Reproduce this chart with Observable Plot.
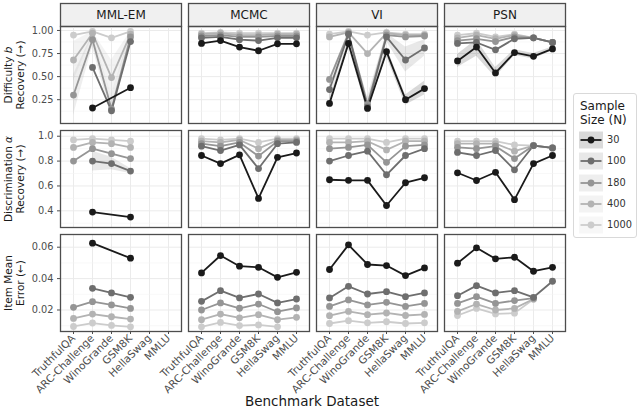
<!DOCTYPE html>
<html><head><meta charset="utf-8">
<script src="https://cdn.jsdelivr.net/npm/d3@7"></script>
<script src="https://cdn.jsdelivr.net/npm/@observablehq/plot@0.6"></script>
<style>
html,body{margin:0;padding:0;background:#fff;}
#chart{position:relative;width:639px;height:409px;overflow:hidden;font-family:"DejaVu Sans",sans-serif;background:#fff;}
.rowtitle{position:absolute;transform:translate(-50%,-50%) rotate(-90deg);text-align:center;white-space:nowrap;font-size:10.5px;line-height:12px;color:#1a1a1a;}
</style></head><body>
<div id="chart"></div>
<script>
// ---------------- data ----------------
const methods = ["MML-EM", "MCMC", "VI", "PSN"];
const benchmarks = ["TruthfulQA", "ARC-Challenge", "WinoGrande", "GSM8K", "HellaSwag", "MMLU"];
const sampleSizes = [30, 100, 180, 400, 1000];
const sizeColors = ["#1a1a1a", "#6e6e6e", "#959595", "#b3b3b3", "#cccccc"];
const rowTitles = [
  ["Difficulty <i>b</i>", "Recovery (→)"],
  ["Discrimination <i>α</i>", "Recovery (→)"],
  ["Item Mean", "Error (←)"]
];
const xAxisTitle = "Benchmark Dataset";
const legendTitle = ["Sample", "Size (N)"];

// rows: sample size 30,100,180,400,1000 ; columns: benchmarks
const diffMMLEM = [
  [null, 0.16, null, 0.38, null, null],
  [null, 0.60, 0.13, 0.88, null, null],
  [0.30, 0.90, 0.15, 0.93, null, null],
  [0.68, 0.97, 0.49, 0.96, null, null],
  [0.95, 0.99, 0.92, 0.99, null, null]
];
const diffMCMC = [
  [0.86, 0.89, 0.82, 0.78, 0.855, 0.855],
  [0.92, 0.93, 0.90, 0.89, 0.92, 0.92],
  [0.94, 0.95, 0.93, 0.93, 0.94, 0.94],
  [0.96, 0.97, 0.95, 0.95, 0.96, 0.96],
  [0.97, 0.98, 0.97, 0.97, 0.97, 0.97]
];
const diffVI = [
  [0.21, 0.86, 0.155, 0.77, 0.25, 0.37],
  [0.36, 0.96, 0.17, 0.93, 0.68, 0.81],
  [0.47, 0.97, 0.20, 0.95, 0.93, 0.94],
  [0.93, 0.98, 0.75, 0.97, 0.95, 0.95],
  [0.96, 0.99, 0.95, 0.98, 0.96, 0.96]
];
const diffPSN = [
  [0.67, 0.82, 0.54, 0.76, 0.72, 0.80],
  [0.86, 0.87, 0.79, 0.91, 0.92, 0.87],
  [0.89, 0.91, 0.88, 0.93, 0.92, 0.87],
  [0.92, 0.95, 0.91, 0.95, 0.92, 0.87],
  [0.95, 0.97, 0.93, 0.96, 0.92, 0.87]
];
const discMMLEM = [
  [null, 0.39, null, 0.35, null, null],
  [null, 0.80, 0.78, 0.72, null, null],
  [0.80, 0.90, 0.86, 0.82, null, null],
  [0.91, 0.95, 0.94, 0.91, null, null],
  [0.97, 0.98, 0.97, 0.96, null, null]
];
const discMCMC = [
  [0.845, 0.78, 0.85, 0.50, 0.83, 0.865],
  [0.92, 0.885, 0.93, 0.74, 0.94, 0.95],
  [0.94, 0.92, 0.95, 0.84, 0.96, 0.96],
  [0.96, 0.95, 0.97, 0.90, 0.97, 0.97],
  [0.98, 0.97, 0.98, 0.95, 0.98, 0.98]
];
const discVI = [
  [0.65, 0.645, 0.645, 0.443, 0.626, 0.666],
  [0.80, 0.845, 0.88, 0.69, 0.845, 0.90],
  [0.90, 0.91, 0.93, 0.79, 0.92, 0.93],
  [0.95, 0.95, 0.96, 0.89, 0.96, 0.96],
  [0.98, 0.98, 0.98, 0.95, 0.98, 0.98]
];
const discPSN = [
  [0.706, 0.644, 0.71, 0.49, 0.78, 0.845],
  [0.87, 0.845, 0.885, 0.73, 0.925, 0.906],
  [0.91, 0.90, 0.92, 0.82, 0.925, 0.906],
  [0.94, 0.94, 0.94, 0.88, 0.925, 0.906],
  [0.96, 0.96, 0.96, 0.93, 0.925, 0.906]
];
const errMMLEM = [
  [null, 0.0626, null, 0.053, null, null],
  [null, 0.0338, 0.0309, 0.0281, null, null],
  [0.0217, 0.0253, 0.0232, 0.021, null, null],
  [0.0146, 0.0174, 0.0157, 0.0142, null, null],
  [0.0095, 0.0117, 0.0102, 0.0093, null, null]
];
const errMCMC = [
  [0.0436, 0.0547, 0.0479, 0.0472, 0.0408, 0.044],
  [0.0255, 0.0323, 0.0277, 0.0302, 0.0245, 0.027],
  [0.020, 0.0245, 0.0211, 0.0238, 0.0189, 0.0213],
  [0.0138, 0.0174, 0.015, 0.017, 0.0138, 0.0153],
  [0.0093, 0.0121, 0.0101, 0.0105, 0.0093, null]
];
const errVI = [
  [0.0458, 0.0615, 0.049, 0.0483, 0.0419, 0.0468],
  [0.0277, 0.0351, 0.0302, 0.0317, 0.0285, 0.0309],
  [0.0223, 0.0264, 0.0232, 0.0249, 0.0223, 0.0242],
  [0.0164, 0.0191, 0.017, 0.0181, 0.0165, 0.0172],
  [0.0114, 0.0132, 0.0118, 0.0125, 0.0114, 0.0118]
];
const errPSN = [
  [0.0498, 0.0596, 0.0526, 0.0536, 0.0447, 0.0472],
  [0.0291, 0.0355, 0.0309, 0.0323, 0.0281, 0.0383],
  [0.0242, 0.0285, 0.0242, 0.026, 0.0275, null],
  [0.0191, 0.0238, 0.020, 0.021, 0.027, null],
  [0.0165, 0.021, 0.0175, 0.018, 0.0268, null]
];

// uncertainty bands (visible ones only)
const ribbons = [
  {metric: "diff", method: "MML-EM", size: 180, lo: [0.08, 0.82, 0.06, 0.84, null, null], hi: [0.52, 0.96, 0.30, 0.97, null, null]},
  {metric: "diff", method: "MML-EM", size: 400, lo: [0.45, 0.94, 0.30, 0.93, null, null], hi: [0.88, 0.99, 0.68, 0.99, null, null]},
  {metric: "diff", method: "VI", size: 100, lo: [0.25, 0.93, 0.10, 0.88, 0.55, 0.72], hi: [0.48, 0.99, 0.28, 0.97, 0.82, 0.90]},
  {metric: "diff", method: "VI", size: 30, lo: [0.17, 0.82, 0.12, 0.72, 0.19, 0.30], hi: [0.25, 0.90, 0.19, 0.82, 0.30, 0.45]},
  {metric: "diff", method: "PSN", size: 30, lo: [0.60, 0.72, 0.49, 0.73, 0.69, 0.78], hi: [0.74, 0.90, 0.60, 0.79, 0.75, 0.82]},
  {metric: "disc", method: "MML-EM", size: 100, lo: [null, 0.72, 0.73, 0.70, null, null], hi: [null, 0.88, 0.83, 0.74, null, null]}
];

const rows = [
  {key: "diff", values: [diffMMLEM, diffMCMC, diffVI, diffPSN], domain: [-0.008, 1.043],
   ticks: [0.25, 0.5, 0.75, 1.0], minor: [0.125, 0.375, 0.625, 0.875], fmt: ".2f", top: 24},
  {key: "disc", values: [discMMLEM, discMCMC, discVI, discPSN], domain: [0.266, 1.046],
   ticks: [0.4, 0.6, 0.8, 1.0], minor: [0.3, 0.5, 0.7, 0.9], fmt: ".1f", top: 128},
  {key: "err", values: [errMMLEM, errMCMC, errVI, errPSN], domain: [0.0063, 0.0681],
   ticks: [0.02, 0.04, 0.06], minor: [0.01, 0.03, 0.05], fmt: ".2f", top: 232}
];

// ---------------- helpers ----------------
function toLong(arrays) {
  const out = [];
  methods.forEach((m, mi) => {
    for (let si = sampleSizes.length - 1; si >= 0; si--) {
      arrays[mi][si].forEach((v, bi) => {
        if (v != null) out.push({method: m, size: sampleSizes[si], bench: benchmarks[bi], v});
      });
    }
  });
  return out;
}
function ribbonLong(key) {
  const out = [];
  ribbons.filter(r => r.metric === key).forEach(r => {
    r.lo.forEach((lo, bi) => {
      if (lo != null && r.hi[bi] != null) out.push({method: r.method, size: r.size, bench: benchmarks[bi], lo, hi: r.hi[bi]});
    });
  });
  return out;
}

const chart = document.getElementById("chart");
const W = 568, ML = 58, MR = 2, PANEL_H = 97;
const fxOpts = {domain: methods, paddingInner: 0.055, paddingOuter: 0, axis: null, label: null};
const colorOpts = {type: "ordinal", domain: sampleSizes, range: sizeColors};
const baseStyle = {fontFamily: "DejaVu Sans, sans-serif", background: "transparent", overflow: "visible"};

function place(el, top, left = 0) {
  el.style.position = "absolute";
  el.style.left = left + "px";
  el.style.top = top + "px";
  chart.appendChild(el);
}

// strips
const strip = Plot.plot({
  width: W, height: 25, marginLeft: ML, marginRight: MR, marginTop: 2, marginBottom: 0,
  fx: fxOpts, style: baseStyle,
  marks: [
    Plot.frame({fill: "#f0f0f0", stroke: "#4d4d4d", strokeWidth: 1.3}),
    Plot.text(methods, {fx: d => d, text: d => d, frameAnchor: "middle", fontSize: 12, fill: "#1a1a1a"})
  ]
});
place(strip, 1);

// panel rows
rows.forEach((row, ri) => {
  const showX = ri === rows.length - 1;
  const data = toLong(row.values);
  const rib = ribbonLong(row.key);
  const marks = [
    Plot.gridX({stroke: "#ebebeb", strokeOpacity: 1, strokeWidth: 1}),
    Plot.gridY(row.minor, {stroke: "#f4f4f4", strokeOpacity: 1, strokeWidth: 0.6}),
    Plot.gridY(row.ticks, {stroke: "#ebebeb", strokeOpacity: 1, strokeWidth: 1}),
    Plot.areaY(rib, {x: "bench", y1: "lo", y2: "hi", fx: "method", z: "size", fill: "size", fillOpacity: 0.16}),
    Plot.line(data, {x: "bench", y: "v", fx: "method", z: "size", stroke: "size", strokeWidth: 1.8}),
    Plot.dot(data, {x: "bench", y: "v", fx: "method", fill: "size", r: 3.4}),
    Plot.frame({stroke: "#4d4d4d", strokeWidth: 1.3}),
    Plot.axisY(row.ticks, {tickFormat: row.fmt, tickSize: 3, tickPadding: 4, fontSize: 9.8, color: "#4d4d4d", label: null})
  ];
  if (showX) marks.push(Plot.axisX({tickRotate: -45, tickSize: 3, tickPadding: 2, fontSize: 10.5, color: "#4d4d4d", label: null}));
  const p = Plot.plot({
    width: W, height: 2 + PANEL_H + (showX ? 78 : 2),
    marginLeft: ML, marginRight: MR, marginTop: 2, marginBottom: showX ? 78 : 2,
    fx: fxOpts,
    x: showX ? {type: "point", domain: benchmarks, padding: 0.6, label: null}
             : {type: "point", domain: benchmarks, padding: 0.6, axis: null, label: null},
    y: {domain: row.domain, label: null},
    color: colorOpts,
    style: baseStyle,
    marks
  });
  place(p, row.top);

  // row title
  const t = document.createElement("div");
  t.className = "rowtitle";
  t.innerHTML = rowTitles[ri][0] + "<br>" + rowTitles[ri][1];
  t.style.left = "14px";
  t.style.top = (row.top + 2 + PANEL_H / 2) + "px";
  chart.appendChild(t);
});

// x axis title
const xt = document.createElement("div");
xt.textContent = xAxisTitle;
Object.assign(xt.style, {position: "absolute", left: "312px", top: "393px", transform: "translateX(-50%)",
  fontSize: "13.5px", lineHeight: "16px", color: "#1a1a1a", whiteSpace: "nowrap"});
chart.appendChild(xt);

// legend
const lg = d3.select(chart).append("div")
  .style("position", "absolute").style("left", "573px").style("top", "93px")
  .style("width", "64px").style("height", "145px").style("box-sizing", "border-box")
  .style("border", "1px solid #d9d9d9").style("border-radius", "3px").style("background", "#fff");
lg.append("div").html(legendTitle.join("<br>"))
  .style("position", "absolute").style("left", "6px").style("top", "5px")
  .style("font-size", "12px").style("line-height", "14px").style("color", "#1a1a1a").style("white-space", "nowrap");
sampleSizes.forEach((s, i) => {
  const cy = 46 + i * 21.3;
  const item = lg.append("div").style("position", "absolute").style("left", "5px").style("top", (cy - 9) + "px")
    .style("height", "18px").style("width", "56px");
  const svg = item.append("svg").attr("width", 24).attr("height", 18).style("position", "absolute").style("left", "0px").style("top", "0px");
  svg.append("rect").attr("x", 0).attr("y", 0.5).attr("width", 24).attr("height", 17).attr("fill", sizeColors[i]).attr("fill-opacity", 0.16);
  svg.append("line").attr("x1", 1.5).attr("x2", 22.5).attr("y1", 9).attr("y2", 9).attr("stroke", sizeColors[i]).attr("stroke-width", 1.8);
  svg.append("circle").attr("cx", 12).attr("cy", 9).attr("r", 3.4).attr("fill", sizeColors[i]);
  item.append("div").text(String(s)).style("position", "absolute").style("left", "28px").style("top", "0px")
    .style("line-height", "18px").style("font-size", "9.8px").style("color", "#333");
});
</script></body></html>
